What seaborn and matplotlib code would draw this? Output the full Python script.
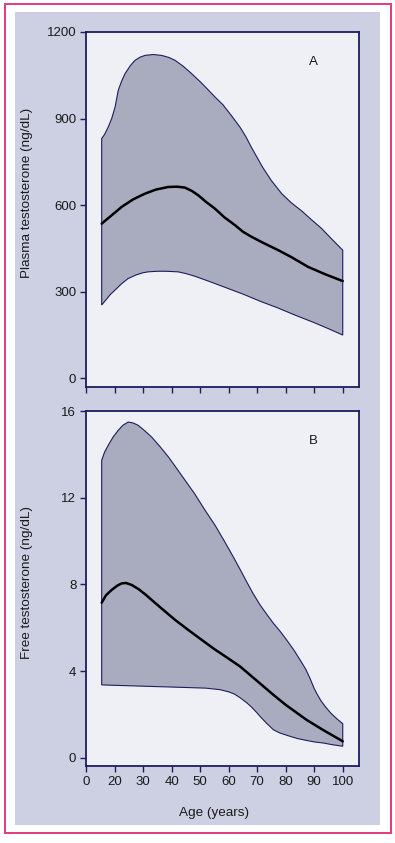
import numpy as np
import pandas as pd
import matplotlib
matplotlib.use("Agg")
import matplotlib.pyplot as plt
from matplotlib.patches import Rectangle
import seaborn as sns

# panel A - plasma testosterone (ng/dL)
age_a_upper = [15.5, 16.5, 17.8, 19, 20.2, 21.3, 22.5, 23.7, 25.5, 27.2, 29, 30.7, 33.5, 36.5, 39,
               41.2, 44, 47, 50, 52.5, 55.2, 58, 61, 64, 66, 68, 70, 72, 75, 78.6, 82, 85.6, 89,
               92.6, 96, 100]
upper_a = [831, 845, 871, 900, 940, 998, 1030, 1056, 1083, 1102, 1113, 1119, 1122, 1119, 1112,
           1102, 1082, 1056, 1028, 1003, 975, 948, 910, 870, 838, 800, 765, 730, 685, 640, 608,
           580, 550, 519, 484, 444]
age_a_lower = [15.5, 17, 18.5, 20.2, 22.5, 24.8, 27.5, 30, 31.8, 35, 38, 42.3, 45, 48.1, 54, 59.9,
               65, 71.6, 77, 83.3, 90, 95, 100]
lower_a = [254, 272, 290, 306, 328, 346, 358, 366, 369, 371, 371, 369, 363, 354, 333, 311, 292,
           265, 245, 219, 193, 172, 150]
age_a_mean = [15.5, 19, 22.5, 26.5, 30.7, 34.5, 38.8, 42, 44.6, 47, 49.4, 52, 55.2, 58.5, 62.2, 65,
              68.1, 72, 77.4, 82, 87.9, 94, 100]
mean_a = [536, 565, 594, 620, 640, 654, 663, 664, 661, 650, 634, 612, 588, 558, 531, 508, 490,
          470, 444, 420, 386, 360, 337]

# panel B - free testosterone (ng/dL)
age_b_upper = [15.5, 16.5, 17.8, 19.5, 21.3, 23, 24.8, 26.5, 28.3, 30.5, 33, 36, 38.9, 41.8, 44.7,
               48, 51.7, 55.2, 58.5, 61.6, 64, 66.3, 68.5, 71, 73.5, 75.7, 78, 80.3, 83, 85, 87,
               88.5, 90, 91, 92.3, 94, 95.8, 98, 100]
upper_b = [13.73, 14.1, 14.42, 14.8, 15.11, 15.35, 15.49, 15.45, 15.34, 15.1, 14.8, 14.35, 13.88,
           13.35, 12.81, 12.2, 11.43, 10.74, 10.0, 9.28, 8.7, 8.13, 7.6, 7.06, 6.6, 6.21, 5.85,
           5.45, 4.95, 4.53, 4.1, 3.68, 3.2, 2.95, 2.65, 2.35, 2.07, 1.8, 1.58]
age_b_lower = [15.5, 25, 35, 45, 52, 57, 60, 62, 64, 66.3, 68, 69.8, 71, 73.3, 75.7, 78, 81.5, 84,
               87.3, 90, 93.2, 96, 100]
lower_b = [3.37, 3.33, 3.29, 3.25, 3.22, 3.15, 3.05, 2.95, 2.78, 2.55, 2.35, 2.1, 1.92, 1.6, 1.3,
           1.15, 1.0, 0.9, 0.81, 0.74, 0.69, 0.62, 0.54]
age_b_mean = [15.5, 17, 19, 21, 22.5, 24, 26, 28.5, 31, 33, 36, 41.2, 45.8, 50, 55, 60, 64, 70,
              75.7, 80, 87.3, 93, 100]
mean_b = [7.16, 7.5, 7.75, 7.95, 8.05, 8.07, 7.98, 7.78, 7.52, 7.29, 6.95, 6.37, 5.91, 5.5, 5.02,
          4.58, 4.22, 3.55, 2.91, 2.45, 1.76, 1.3, 0.77]

x_ticks = [10, 20, 30, 40, 50, 60, 70, 80, 90, 100]
x_ticklabels = ["0", "20", "30", "40", "50", "60", "70", "80", "90", "100"]
y_ticks_a = [0, 300, 600, 900, 1200]
y_ticks_b = [0, 4, 8, 12, 16]

sns.set_theme(style="white")
plt.rcParams["font.family"] = ["Liberation Sans", "DejaVu Sans"]

NAVY = "#1d1d5c"
BAND = "#a9abbf"
FACE = "#eef0f6"

fig = plt.figure(figsize=(3.95, 8.43), dpi=100)
fig.patch.set_facecolor("white")
fig.patches.append(Rectangle((5 / 395, 1 - 833 / 843), 386 / 395, 829 / 843, transform=fig.transFigure,
                             fill=False, edgecolor="#e2397f", lw=1.4, zorder=-10))
fig.patches.append(Rectangle((15 / 395, 1 - 825 / 843), 365 / 395, 813 / 843, transform=fig.transFigure,
                             facecolor="#cdd0e3", edgecolor="none", zorder=-10))

ax_a = fig.add_axes([86 / 395, 1 - 387 / 843, 273 / 395, 355 / 843])
ax_b = fig.add_axes([86 / 395, 1 - 766 / 843, 273 / 395, 355 / 843])


def draw_panel(ax, age_up, up, age_low, low, age_mean, mean):
    '''
    shaded range between upper and lower curve, mean as black line
    '''
    poly_x = np.concatenate([age_up, age_low[::-1]])
    poly_y = np.concatenate([up, low[::-1]])
    ax.fill(poly_x, poly_y, facecolor=BAND, edgecolor=NAVY, lw=0.8, zorder=2)
    df = pd.DataFrame({"age": age_mean, "value": mean})
    sns.lineplot(data=df, x="age", y="value", ax=ax, color="black", lw=1.8, zorder=3)


draw_panel(ax_a, age_a_upper, upper_a, age_a_lower, lower_a, age_a_mean, mean_a)
draw_panel(ax_b, age_b_upper, upper_b, age_b_lower, lower_b, age_b_mean, mean_b)

for ax in (ax_a, ax_b):
    ax.set_facecolor(FACE)
    ax.set_xlim(10, 105.7)
    ax.set_xticks(x_ticks)
    for sp in ax.spines.values():
        sp.set_color(NAVY)
        sp.set_linewidth(1.3)
    ax.tick_params(axis="both", direction="out", length=4.5, width=1.0, color=NAVY,
                   labelsize=9.5, labelcolor="#1a1a1a", pad=2.5, bottom=True, left=True)
    ax.set_xlabel("")
    ax.set_ylabel("")

ax_a.set_ylim(-30, 1200)
ax_a.set_yticks(y_ticks_a)
ax_a.set_xticklabels([])
ax_b.set_ylim(-0.37, 16)
ax_b.set_yticks(y_ticks_b)
ax_b.set_xticklabels(x_ticklabels)

ax_a.set_ylabel("Plasma testosterone (ng/dL)", fontsize=9.7, color="#1a1a1a")
ax_a.yaxis.set_label_coords(-0.194, 0.548)
ax_b.set_ylabel("Free testosterone (ng/dL)", fontsize=9.7, color="#1a1a1a")
ax_b.yaxis.set_label_coords(-0.194, 0.517)
ax_b.set_xlabel("Age (years)", fontsize=9.7, color="#1a1a1a")
ax_b.xaxis.set_label_coords(0.468, -0.116)

ax_a.text(0.833, 0.916, "A", transform=ax_a.transAxes, ha="center", va="center", fontsize=9.5,
          color="#1a1a1a")
ax_b.text(0.833, 0.916, "B", transform=ax_b.transAxes, ha="center", va="center", fontsize=9.5,
          color="#1a1a1a")

fig.savefig("out.png", dpi=100)
